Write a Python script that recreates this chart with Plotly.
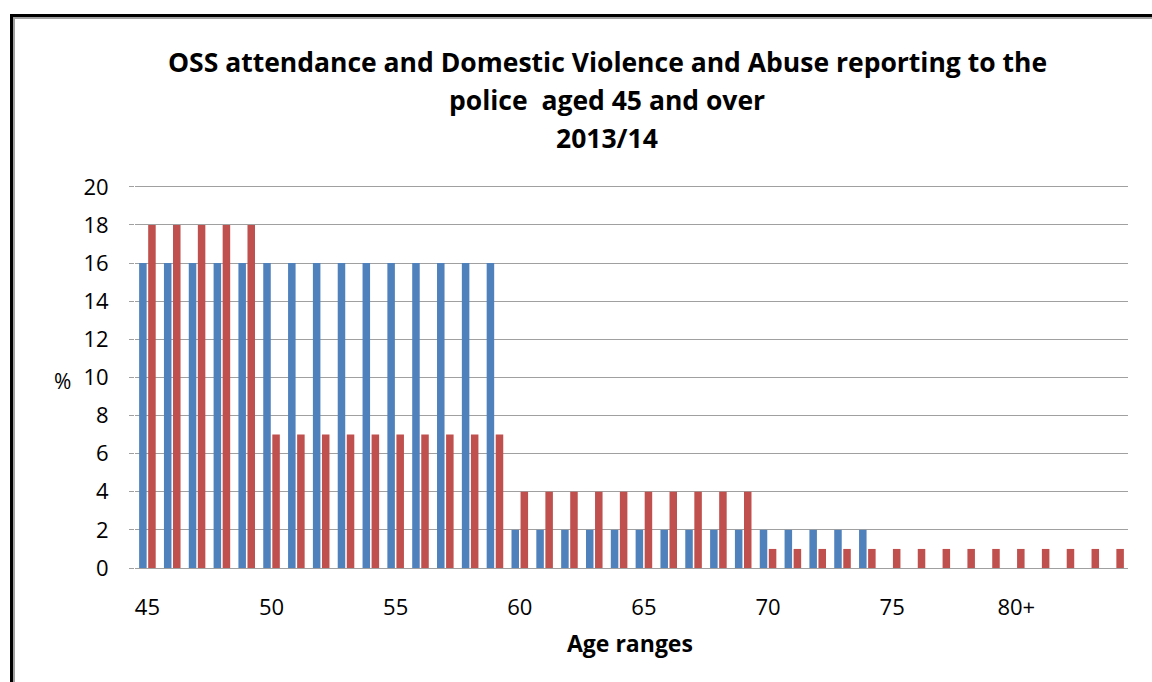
import plotly.graph_objects as go

W, H = 1152, 682
ML, MR, MT, MB = 135, 24, 183, 114

ages = list(range(45, 85))
tick_positions = [45, 50, 55, 60, 65, 70, 75, 80]
tick_labels = ["45", "50", "55", "60", "65", "70", "75", "80+"]

oss_attendance = [16, 16, 16, 16, 16, 16, 16, 16, 16, 16,
                  16, 16, 16, 16, 16, 2, 2, 2, 2, 2,
                  2, 2, 2, 2, 2, 2, 2, 2, 2, 2,
                  None, None, None, None, None, None, None, None, None, None]
police_reporting = [18, 18, 18, 18, 18, 7, 7, 7, 7, 7,
                    7, 7, 7, 7, 7, 4, 4, 4, 4, 4,
                    4, 4, 4, 4, 4, 1, 1, 1, 1, 1,
                    1, 1, 1, 1, 1, 1, 1, 1, 1, 1]

FONT = "Open Sans"

fig = go.Figure()
fig.add_trace(go.Bar(x=ages, y=oss_attendance, name="OSS attendance",
                     marker=dict(color="#4F81BD", line=dict(width=0))))
fig.add_trace(go.Bar(x=ages, y=police_reporting, name="DVA reporting to the police",
                     marker=dict(color="#C0504D", line=dict(width=0))))

pw = W - ML - MR
ph = H - MT - MB


def px_x(p):
    return (p - ML) / pw


def px_y(p):
    return (H - MB - p) / ph


shapes = [
    dict(type="rect", xref="paper", yref="paper",
         x0=px_x(11.5), x1=px_x(1170), y0=px_y(15.5), y1=px_y(720),
         line=dict(color="#000000", width=3), layer="above"),
    dict(type="rect", xref="paper", yref="paper",
         x0=px_x(14), x1=px_x(1170), y0=px_y(18), y1=px_y(720),
         line=dict(color="#A0A0A0", width=2), layer="above"),
]

annotations = []
title_lines = ["OSS attendance and Domestic Violence and Abuse reporting to the",
               "police  aged 45 and over",
               "2013/14"]
for i, t in enumerate(title_lines):
    annotations.append(dict(text="<b>" + t + "</b>", xref="paper", yref="paper",
                            x=px_x(607), y=px_y(62 + 38 * i), xanchor="center", yanchor="middle",
                            showarrow=False, font=dict(family=FONT, size=26.5, color="#000000")))
annotations.append(dict(text="%", xref="paper", yref="paper", x=px_x(62), y=px_y(381),
                        xanchor="center", yanchor="middle", showarrow=False,
                        font=dict(family=FONT, size=21, color="#000000")))
annotations.append(dict(text="<b>Age ranges</b>", xref="paper", yref="paper", x=px_x(630), y=px_y(643),
                        xanchor="center", yanchor="middle", showarrow=False,
                        font=dict(family=FONT, size=23, color="#000000")))

fig.update_layout(
    width=W, height=H,
    margin=dict(l=ML, r=MR, t=MT, b=MB, pad=0),
    paper_bgcolor="white", plot_bgcolor="white",
    barmode="group", bargap=0.27, bargroupgap=0.17,
    showlegend=False,
    shapes=shapes,
    annotations=annotations,
    font=dict(family=FONT, size=22, color="#000000"),
    xaxis=dict(range=[44.5, 84.5], tickmode="array", tickvals=tick_positions, ticktext=tick_labels,
               ticks="outside", ticklen=20, tickcolor="rgba(0,0,0,0)", showgrid=False,
               showline=True, linecolor="#A0A0A0", linewidth=1, zeroline=False,
               tickfont=dict(family=FONT, size=22)),
    yaxis=dict(range=[0, 20.2], tickmode="array", tickvals=list(range(0, 21, 2)),
               ticks="outside", ticklen=5, tickcolor="#A0A0A0", showgrid=True, gridcolor="#A0A0A0",
               gridwidth=1, showline=False, zeroline=False, ticklabelstandoff=16,
               tickfont=dict(family=FONT, size=22)),
)

fig.write_html("out.html")
